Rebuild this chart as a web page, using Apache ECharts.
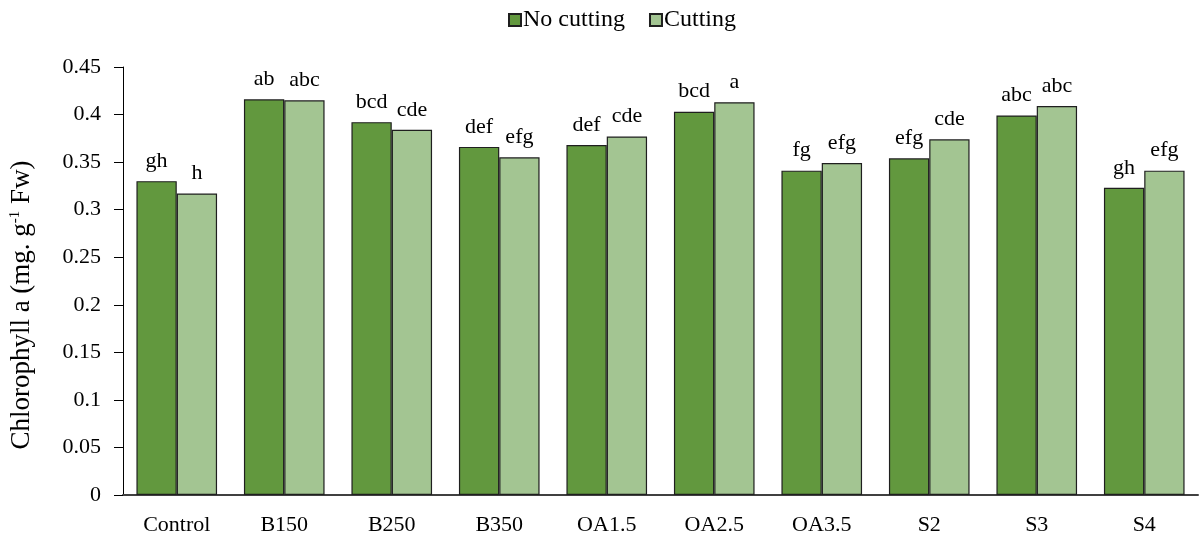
<!DOCTYPE html>
<html>
<head>
<meta charset="utf-8">
<script src="https://cdn.jsdelivr.net/npm/echarts@6/dist/echarts.min.js"></script>
<style>
  html, body { margin: 0; padding: 0; background: #ffffff; }
  #chart { width: 1200px; height: 537px; }
</style>
</head>
<body>
<div id="chart"></div>
<script>
// Treatments along the x axis
var categories = ['Control', 'B150', 'B250', 'B350', 'OA1.5', 'OA2.5', 'OA3.5', 'S2', 'S3', 'S4'];

// Chlorophyll a (mg g-1 Fw) per treatment
var noCutting = [0.330, 0.416, 0.392, 0.366, 0.368, 0.403, 0.341, 0.354, 0.399, 0.323];
var cutting   = [0.317, 0.415, 0.384, 0.355, 0.377, 0.413, 0.349, 0.374, 0.409, 0.341];

// Significance letters shown above each bar
var noCuttingLetters = ['gh', 'ab', 'bcd', 'def', 'def', 'bcd', 'fg', 'efg', 'abc', 'gh'];
var cuttingLetters   = ['h', 'abc', 'cde', 'efg', 'cde', 'a', 'efg', 'cde', 'abc', 'efg'];

// Y axis ticks
var yTicks = [0, 0.05, 0.1, 0.15, 0.2, 0.25, 0.3, 0.35, 0.4, 0.45];

var serif = 'Liberation Serif, Times New Roman, serif';

function letterLabel(letters) {
  return {
    show: true,
    position: 'top',
    distance: 9,
    color: '#000',
    fontFamily: serif,
    fontSize: 22,
    formatter: function (p) { return letters[p.dataIndex]; }
  };
}

var chart = echarts.init(document.getElementById('chart'), null, { renderer: 'canvas' });

chart.setOption({
  animation: false,
  backgroundColor: '#ffffff',
  legend: {
    top: 3,
    left: 503,
    itemWidth: 12,
    itemHeight: 12,
    itemGap: 24,
    icon: 'rect',
    textStyle: { fontFamily: serif, fontSize: 24, color: '#000', padding: [0, 0, 0, -3] },
    data: ['No cutting', 'Cutting']
  },
  grid: { left: 123, right: 2, top: 67, bottom: 42, containLabel: false },
  xAxis: {
    type: 'category',
    data: categories,
    axisLine: { lineStyle: { color: '#404040', width: 2 } },
    axisTick: { show: false },
    axisLabel: { color: '#000', fontFamily: serif, fontSize: 22, margin: 19 }
  },
  yAxis: {
    type: 'value',
    min: yTicks[0],
    max: yTicks[yTicks.length - 1],
    interval: 0.05,
    name: 'Chlorophyll a (mg. g{sup|-1} Fw)',
    nameLocation: 'middle',
    nameGap: 88,
    nameTextStyle: {
      fontFamily: serif,
      fontSize: 27,
      color: '#000',
      padding: [0, 48, 0, 0],
      rich: {
        sup: { fontFamily: serif, fontSize: 15, color: '#000', verticalAlign: 'top', padding: [0, 0, 12, 0] }
      }
    },
    axisLine: { show: true, lineStyle: { color: '#000', width: 1 } },
    axisTick: { show: true, length: 9, lineStyle: { color: '#000' } },
    splitLine: { show: false },
    axisLabel: {
      color: '#000',
      fontFamily: serif,
      fontSize: 22,
      margin: 22,
      formatter: function (v) { return String(parseFloat(v.toFixed(2))); }
    }
  },
  series: [
    {
      name: 'No cutting',
      type: 'bar',
      data: noCutting,
      barGap: '0%',
      barCategoryGap: '25%',
      itemStyle: { color: '#62983e', borderColor: '#1f1f1f', borderWidth: 1.2 },
      label: letterLabel(noCuttingLetters)
    },
    {
      name: 'Cutting',
      type: 'bar',
      data: cutting,
      itemStyle: { color: '#a3c592', borderColor: '#1f1f1f', borderWidth: 1.2 },
      label: letterLabel(cuttingLetters)
    }
  ]
});
</script>
</body>
</html>
